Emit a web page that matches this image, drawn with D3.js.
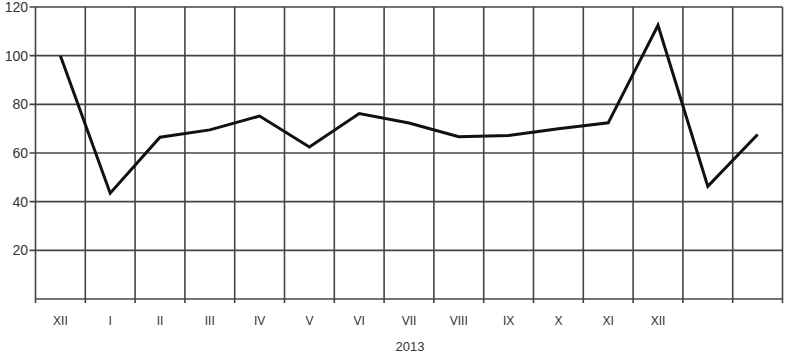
<!DOCTYPE html>
<html><head><meta charset="utf-8">
<script src="https://cdn.jsdelivr.net/npm/d3@7"></script>
<style>body{margin:0;background:#fff}svg{display:block}text{font-family:"Liberation Sans",Arial,sans-serif;fill:#333}</style>
</head><body>
<svg id="c" width="790" height="355"></svg>
<script>
const categories = ["XII","I","II","III","IV","V","VI","VII","VIII","IX","X","XI","XII","",""];
const values = [100, 43.5, 66.5, 69.5, 75.2, 62.5, 76.2, 72.3, 66.7, 67.2, 70, 72.4, 112.5, 46.3, 67.6];
const yTicks = [20, 40, 60, 80, 100, 120];
const yearLabel = "2013";

const svg = d3.select("#c");
const m = {l: 35.5, r: 782.5, t: 7, b: 299};
const keys = categories.map((c, i) => i);
const x = d3.scaleBand().domain(keys).range([m.l, m.r]).padding(0);
const y = d3.scaleLinear().domain([0, 120]).range([m.b, m.t]);
const grid = "#444";

// horizontal grid
svg.append("g").selectAll("line").data([0].concat(yTicks)).join("line")
  .attr("x1", d => d === 0 ? m.l : m.l - 6).attr("x2", m.r)
  .attr("y1", d => y(d)).attr("y2", d => y(d))
  .attr("stroke", grid).attr("stroke-width", 1.6);
// vertical grid
const vx = keys.map(k => x(k)).concat([m.r]);
svg.append("g").selectAll("line").data(vx).join("line")
  .attr("x1", d => d).attr("x2", d => d)
  .attr("y1", m.t).attr("y2", m.b + 4)
  .attr("stroke", grid).attr("stroke-width", 1.6);

// y tick labels
svg.append("g").selectAll("text").data(yTicks).join("text")
  .attr("x", 28).attr("y", d => y(d)).attr("dy", "0.35em")
  .attr("text-anchor", "end").attr("font-size", 14).text(d => d);

// x labels
svg.append("g").selectAll("text").data(keys).join("text")
  .attr("x", k => x(k) + x.bandwidth() / 2).attr("y", 325)
  .attr("text-anchor", "middle").attr("font-size", 12).text(k => categories[k]);

svg.append("text").attr("x", 410).attr("y", 351).attr("text-anchor", "middle")
  .attr("font-size", 13).text(yearLabel);

// line
const line = d3.line().x((d, i) => x(i) + x.bandwidth() / 2).y(d => y(d));
svg.append("path").datum(values).attr("d", line)
  .attr("fill", "none").attr("stroke", "#111").attr("stroke-width", 3)
  .attr("stroke-linejoin", "miter");
</script>
</body></html>
